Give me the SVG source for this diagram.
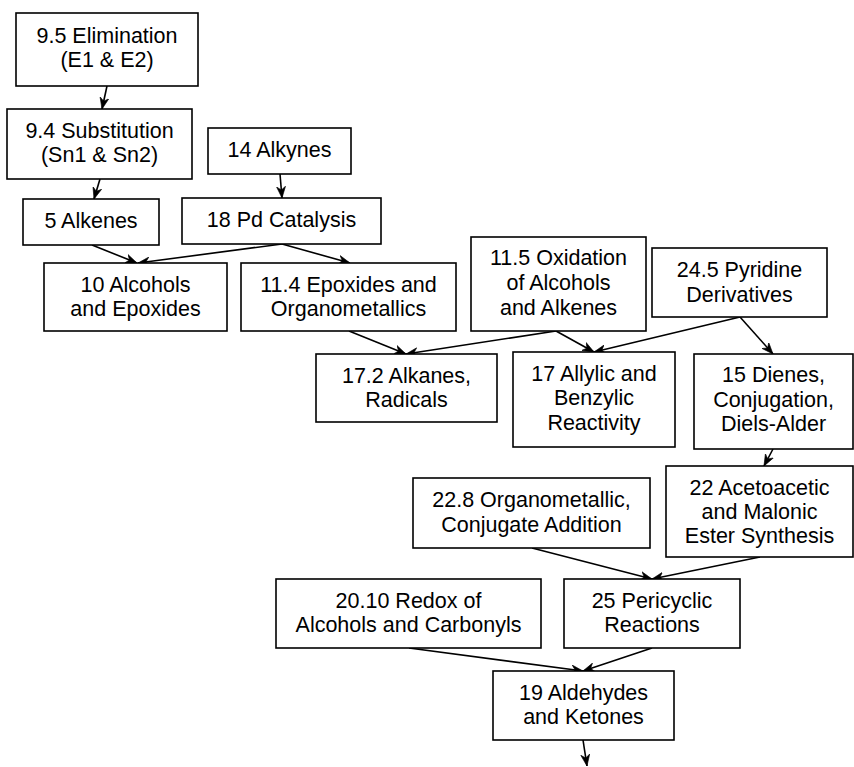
<svg xmlns="http://www.w3.org/2000/svg" width="854" height="767" viewBox="0 0 854 767">
<style>
rect{fill:#fff;stroke:#000;stroke-width:1.6}
text{font-family:"Liberation Sans",Arial,sans-serif;font-size:21.5px;text-anchor:middle;fill:#000}
.e line{stroke:#000;stroke-width:1.6;marker-end:url(#a)}
</style>
<defs>
<marker id="a" viewBox="0 0 12 10" markerWidth="12" markerHeight="10" refX="11.5" refY="5" orient="auto" markerUnits="userSpaceOnUse">
<path d="M0,0.5 L11.5,5 L0,9.5 L3.5,5 z" fill="#000" stroke="#000" stroke-width="0.6" stroke-linejoin="miter"/>
</marker>
</defs>
<rect width="854" height="767" style="fill:#fff;stroke:none"/>
<g class="e" id="connectors">
<line x1="107" y1="86" x2="102" y2="109"/>
<line x1="100" y1="179" x2="94" y2="199"/>
<line x1="280" y1="174" x2="282" y2="198"/>
<line x1="92" y1="245" x2="137" y2="263"/>
<line x1="282" y1="244" x2="138" y2="263"/>
<line x1="282" y1="244" x2="350" y2="263"/>
<line x1="349" y1="331" x2="406" y2="354"/>
<line x1="556" y1="331" x2="406" y2="354"/>
<line x1="556" y1="331" x2="594" y2="352"/>
<line x1="740" y1="317" x2="594" y2="352"/>
<line x1="740" y1="317" x2="773" y2="354"/>
<line x1="773" y1="449" x2="764" y2="466"/>
<line x1="532" y1="548" x2="652" y2="579"/>
<line x1="760" y1="557" x2="652" y2="579"/>
<line x1="409" y1="648" x2="583" y2="671"/>
<line x1="652" y1="648" x2="583" y2="671"/>
<line x1="583" y1="740" x2="587" y2="766"/>
</g>
<g id="n1"><rect x="16" y="13" width="182" height="73"/><text x="107" y="43">9.5 Elimination</text><text x="107" y="67">(E1 &amp; E2)</text></g>
<g id="n2"><rect x="7" y="109" width="185" height="70"/><text x="99.5" y="138">9.4 Substitution</text><text x="99.5" y="162">(Sn1 &amp; Sn2)</text></g>
<g id="n3"><rect x="208" y="128" width="143" height="46"/><text x="279.5" y="157">14 Alkynes</text></g>
<g id="n4"><rect x="23" y="199" width="136" height="46"/><text x="91" y="228">5 Alkenes</text></g>
<g id="n5"><rect x="182" y="198" width="199" height="46"/><text x="281.5" y="227">18 Pd Catalysis</text></g>
<g id="n6"><rect x="44" y="263" width="183" height="68"/><text x="135.5" y="291.5">10 Alcohols</text><text x="135.5" y="315.5">and Epoxides</text></g>
<g id="n7"><rect x="241" y="263" width="215" height="68"/><text x="348.5" y="291.5">11.4 Epoxides and</text><text x="348.5" y="315.5">Organometallics</text></g>
<g id="n8"><rect x="471" y="237" width="175" height="94"/><text x="558.5" y="265">11.5 Oxidation</text><text x="558.5" y="290">of Alcohols</text><text x="558.5" y="315">and Alkenes</text></g>
<g id="n9"><rect x="652" y="248" width="175" height="69"/><text x="739.5" y="277">24.5 Pyridine</text><text x="739.5" y="301.5">Derivatives</text></g>
<g id="n10"><rect x="316" y="354" width="181" height="68"/><text x="406.5" y="382.5">17.2 Alkanes,</text><text x="406.5" y="406.5">Radicals</text></g>
<g id="n11"><rect x="513" y="352" width="162" height="95"/><text x="594" y="380.5">17 Allylic and</text><text x="594" y="405">Benzylic</text><text x="594" y="429.5">Reactivity</text></g>
<g id="n12"><rect x="694" y="354" width="159" height="95"/><text x="773.5" y="382">15 Dienes,</text><text x="773.5" y="406.5">Conjugation,</text><text x="773.5" y="431">Diels-Alder</text></g>
<g id="n13"><rect x="413" y="478" width="237" height="70"/><text x="531.5" y="507">22.8 Organometallic,</text><text x="531.5" y="531.5">Conjugate Addition</text></g>
<g id="n14"><rect x="666" y="466" width="187" height="91"/><text x="759.5" y="495">22 Acetoacetic</text><text x="759.5" y="519">and Malonic</text><text x="759.5" y="543">Ester Synthesis</text></g>
<g id="n15"><rect x="276" y="579" width="265" height="69"/><text x="408.5" y="608">20.10 Redox of</text><text x="408.5" y="632">Alcohols and Carbonyls</text></g>
<g id="n16"><rect x="564" y="579" width="176" height="69"/><text x="652" y="608">25 Pericyclic</text><text x="652" y="632">Reactions</text></g>
<g id="n17"><rect x="493" y="671" width="181" height="69"/><text x="583.5" y="700">19 Aldehydes</text><text x="583.5" y="724">and Ketones</text></g>
</svg>
